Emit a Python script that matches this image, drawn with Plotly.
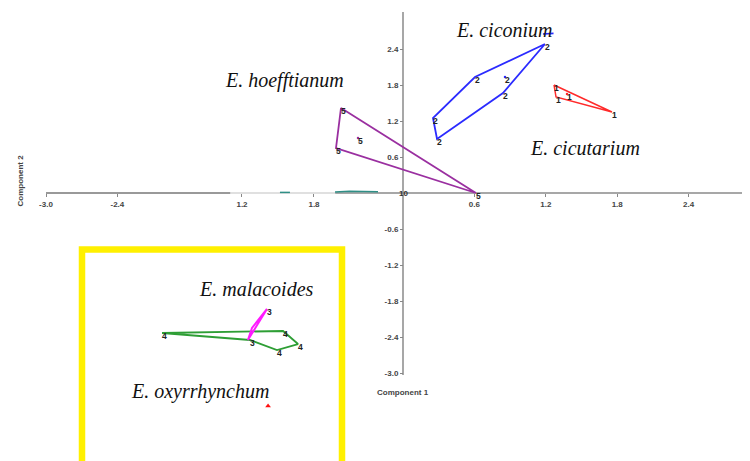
import plotly.graph_objects as go

# ---- data ----
ciconium_x = [1.193, 0.605, 0.252, 0.286, 0.840]
ciconium_y = [2.483, 1.933, 1.250, 0.900, 1.667]
ciconium_in_x = [0.857]
ciconium_in_y = [1.933]

cicutarium_x = [1.269, 1.756, 1.286]
cicutarium_y = [1.800, 1.350, 1.600]
cicutarium_in_x = [1.378]
cicutarium_in_y = [1.650]

hoeff_x = [-0.521, 0.613, -0.563]
hoeff_y = [1.417, 0.000, 0.750]
hoeff_in_x = [-0.378]
hoeff_in_y = [0.917]

oxy_x = [-2.025, -1.008, -0.882, -1.059, -1.286]
oxy_y = [-2.333, -2.300, -2.517, -2.617, -2.450]
oxy_lab = ["4", "4", "4", "4", "3"]

mala_x = [-1.143, -1.303, -1.269]
mala_y = [-1.933, -2.450, -2.250]

red_mark_x = [-1.134]
red_mark_y = [-3.55]

x_tickvals = [-3.0, -2.4, -1.353, -0.748, 0.6, 1.2, 1.8, 2.4]
x_ticktext = ["-3.0", "-2.4", "1.2", "1.8", "0.6", "1.2", "1.8", "2.4"]
y_tickvals = [2.4, 1.8, 1.2, 0.6, -0.6, -1.2, -1.8, -2.4, -3.0]
y_ticktext = ["2.4", "1.8", "1.2", "0.6", "-0.6", "-1.2", "-1.8", "-2.4", "-3.0"]

species = ["E. ciconium", "E. hoefftianum", "E. cicutarium", "E. malacoides", "E. oxyrrhynchum"]
species_x = [0.857, -0.992, 1.529, -1.227, -1.706]
species_y = [2.717, 1.883, 0.750, -1.600, -3.300]

# page body has an 8px margin; the figure is offset by it
OFF = 8
X0PX, Y0PX = 403 - OFF, 193 - OFF
SX, SY = 119.0, 60.0
W, H = 750, 461
XR = [-X0PX / SX, (W - X0PX) / SX]
YR = [-(H - Y0PX) / SY, Y0PX / SY]

fig = go.Figure()

def poly(xs, ys, color, width=1.8):
    fig.add_trace(go.Scatter(x=xs + xs[:1], y=ys + ys[:1], mode="lines",
                             line=dict(color=color, width=width),
                             hoverinfo="skip", showlegend=False))

def labels(xs, ys, texts):
    fig.add_trace(go.Scatter(x=xs, y=ys, mode="text", text=["<b>" + t + "</b>" for t in texts],
                             textposition="bottom right",
                             textfont=dict(family="Liberation Sans", size=8.5, color="#222"),
                             hoverinfo="skip", showlegend=False))

def dots(xs, ys, color):
    fig.add_trace(go.Scatter(x=xs, y=ys, mode="markers",
                             marker=dict(color=color, size=2.5),
                             hoverinfo="skip", showlegend=False))

# axis lines (drawn through data coordinates)
fig.add_trace(go.Scatter(x=[-3.0, -1.45], y=[0, 0], mode="lines",
                         line=dict(color="#777", width=1.5), hoverinfo="skip", showlegend=False))
fig.add_trace(go.Scatter(x=[-1.45, -0.57], y=[0, 0], mode="lines",
                         line=dict(color="#d6d6d6", width=1.5), hoverinfo="skip", showlegend=False))
fig.add_trace(go.Scatter(x=[-0.57, XR[1]], y=[0, 0], mode="lines",
                         line=dict(color="#8a8a8a", width=1.5), hoverinfo="skip", showlegend=False))
fig.add_trace(go.Scatter(x=[0, 0], y=[3.017, -3.033], mode="lines",
                         line=dict(color="#8a8a8a", width=1.5), hoverinfo="skip", showlegend=False))
# teal artefacts along the axis
fig.add_trace(go.Scatter(x=[-1.034, -0.95], y=[0.01, 0.01], mode="lines",
                         line=dict(color="#2f8f86", width=1.5), hoverinfo="skip", showlegend=False))
fig.add_trace(go.Scatter(x=[-0.571, -0.45, -0.21], y=[0.015, 0.03, 0.02], mode="lines",
                         line=dict(color="#2f8f86", width=1.5), hoverinfo="skip", showlegend=False))

poly(ciconium_x, ciconium_y, "#2b2bff")
dots(ciconium_in_x, ciconium_in_y, "#2b2bff")
fig.add_trace(go.Scatter(x=[1.176, 1.265], y=[2.65, 2.66], mode="lines",
                         line=dict(color="#2b2bff", width=1.6), hoverinfo="skip", showlegend=False))
labels(ciconium_x + ciconium_in_x, ciconium_y + ciconium_in_y, ["2"] * 6)

poly(cicutarium_x, cicutarium_y, "#ff2a2a", 1.5)
dots(cicutarium_in_x, cicutarium_in_y, "#ff2a2a")
labels(cicutarium_x + cicutarium_in_x, cicutarium_y + cicutarium_in_y, ["1"] * 4)

poly(hoeff_x, hoeff_y, "#9a2fa0")
dots(hoeff_in_x, hoeff_in_y, "#9a2fa0")
labels(hoeff_x + hoeff_in_x, hoeff_y + hoeff_in_y, ["5", "5", "5", "5"])

poly(oxy_x, oxy_y, "#2e9e35")
labels(oxy_x, oxy_y, oxy_lab)

poly(mala_x, mala_y, "#ff1aff", 2)
labels(mala_x[:1], mala_y[:1], ["3"])

fig.add_trace(go.Scatter(x=red_mark_x, y=red_mark_y, mode="markers",
                         marker=dict(color="#ff1010", size=5, symbol="triangle-up"),
                         hoverinfo="skip", showlegend=False))

# yellow highlight box
fig.add_shape(type="rect", xref="x", yref="y",
              x0=(82 - 403) / SX, x1=(342 - 403) / SX,
              y0=(193 - 249.5) / SY, y1=-4.9,
              line=dict(color="#FFF000", width=6.5), fillcolor="rgba(0,0,0,0)")

for name, sx, sy in zip(species, species_x, species_y):
    fig.add_annotation(x=sx, y=sy, xref="x", yref="y", text="<i>" + name + "</i>",
                       showarrow=False,
                       font=dict(family="Liberation Serif", size=20, color="#111"))

fig.add_annotation(x=0, y=0, xref="x", yref="y", text="<b>10</b>", showarrow=False,
                   font=dict(family="Liberation Sans", size=8, color="#333"))
fig.add_annotation(x=0, y=-3.333, xref="x", yref="y", text="<b>Component 1</b>", showarrow=False,
                   font=dict(family="Liberation Sans", size=8, color="#444"))
fig.add_annotation(x=(13 - OFF) / W, y=1 - (181 - OFF) / H, xref="paper", yref="paper",
                   text="<b>Component 2</b>", textangle=-90, showarrow=False,
                   font=dict(family="Liberation Sans", size=8, color="#444"))

fig.update_layout(
    width=W, height=H,
    margin=dict(l=0, r=0, t=0, b=0),
    paper_bgcolor="white", plot_bgcolor="white",
    xaxis=dict(range=XR, showgrid=False, zeroline=False, showline=False,
               anchor="free", position=(H - Y0PX) / H,
               tickvals=x_tickvals, ticktext=["<b>" + t + "</b>" for t in x_ticktext],
               ticks="outside", ticklen=3, tickcolor="#888",
               tickfont=dict(family="Liberation Sans", size=8, color="#444"),
               automargin=False, fixedrange=True),
    yaxis=dict(range=YR, showgrid=False, zeroline=False, showline=False,
               anchor="free", position=X0PX / W,
               tickvals=y_tickvals, ticktext=["<b>" + t + "</b>" for t in y_ticktext],
               ticks="outside", ticklen=3, tickcolor="#888",
               tickfont=dict(family="Liberation Sans", size=8, color="#444"),
               automargin=False, fixedrange=True),
)

fig.write_html("out.html")
